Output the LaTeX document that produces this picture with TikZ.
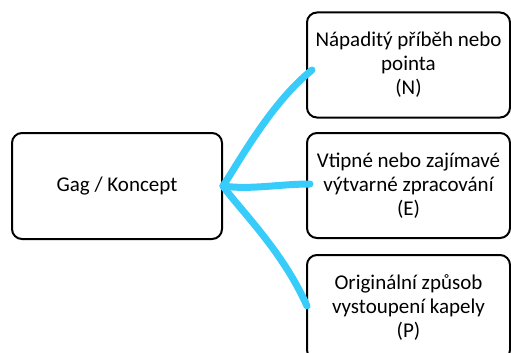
\documentclass[tikz,border=0pt]{standalone}
\usepackage{fontspec}
\setmainfont{Carlito}
\definecolor{strokeblue}{RGB}{56,204,250}
\begin{document}
\begin{tikzpicture}[x=1pt,y=-1pt,
  box/.style={draw=black,line width=2pt,rounded corners=10pt,fill=white,align=center,
    font=\fontsize{21}{24}\selectfont,inner sep=0pt},
  stroke/.style={draw=strokeblue,line width=7pt,line cap=round,line join=round}]
\useasboundingbox (0,0) rectangle (511,353);
\clip (0,0) rectangle (511,353);
\fill[white] (0,0) rectangle (511,353);
\node[box,minimum width=210pt,minimum height=106pt] (L) at (117,186) {Gag / Koncept};
\node[box,minimum width=203pt,minimum height=105pt] (N) at (408.5,65) {Nápaditý příběh nebo\\pointa\\(N)};
\node[box,minimum width=203pt,minimum height=105pt] (E) at (408.5,185.5) {Vtipné nebo zajímavé\\výtvarné zpracování\\(E)};
\node[box,minimum width=203pt,minimum height=105pt] (P) at (408.5,307.5) {Originální způsob\\vystoupení kapely\\(P)};
\coordinate (s0) at (223,186);
\coordinate (sN) at (312,70);
\coordinate (sE) at (310,184);
\coordinate (sP) at (307,306);
\draw[stroke] (s0) .. controls (240,160) and (272,102) .. (sN);
\draw[stroke] (s0) .. controls (250,190) and (280,184) .. (sE);
\draw[stroke] (s0) .. controls (240,210) and (282,250) .. (sP);
\end{tikzpicture}
\end{document}
